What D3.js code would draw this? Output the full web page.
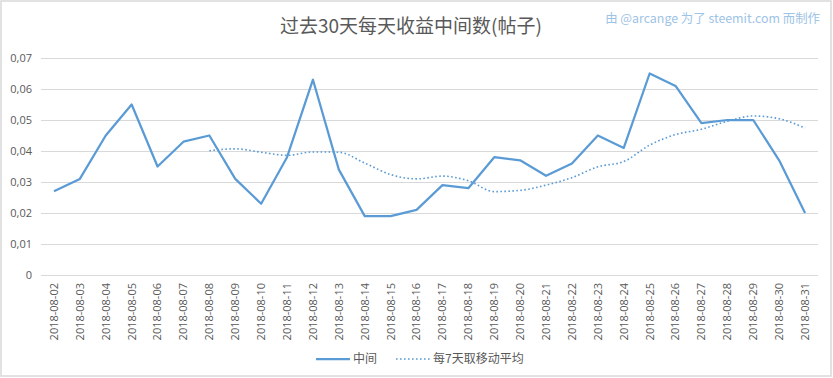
<!DOCTYPE html>
<html>
<head>
<meta charset="utf-8">
<script src="https://cdn.jsdelivr.net/npm/d3@7"></script>
<style>
    html, body { margin: 0; padding: 0; background: #fff; }
    svg { display: block; }
    .axis text { font-family: "Open Sans", "Noto Sans CJK SC", sans-serif; fill: #595959; font-size: 11px; }
    .axis path, .axis line { display: none; }
</style>
</head>
<body>
<div id="chart"></div>
<script>
"use strict";

const titleText = "过去30天每天收益中间数(帖子)";
const creditText = "由 @arcange 为了 steemit.com 而制作";
const seriesNames = ["中间", "每7天取移动平均"];

const dates = [
    "2018-08-02", "2018-08-03", "2018-08-04", "2018-08-05", "2018-08-06", "2018-08-07",
    "2018-08-08", "2018-08-09", "2018-08-10", "2018-08-11", "2018-08-12", "2018-08-13",
    "2018-08-14", "2018-08-15", "2018-08-16", "2018-08-17", "2018-08-18", "2018-08-19",
    "2018-08-20", "2018-08-21", "2018-08-22", "2018-08-23", "2018-08-24", "2018-08-25",
    "2018-08-26", "2018-08-27", "2018-08-28", "2018-08-29", "2018-08-30", "2018-08-31"
];

// median per day
const medianValues = [
    0.027, 0.031, 0.045, 0.055, 0.035, 0.043,
    0.045, 0.031, 0.023, 0.038, 0.063, 0.034,
    0.019, 0.019, 0.021, 0.029, 0.028, 0.038,
    0.037, 0.032, 0.036, 0.045, 0.041, 0.065,
    0.061, 0.049, 0.050, 0.050, 0.037, 0.020
];

// 7-day moving average, starts on 08-08
const movingAvg = [
    null, null, null, null, null, null,
    0.0401, 0.0407, 0.0396, 0.0386, 0.0397, 0.0396,
    0.0361, 0.0324, 0.0310, 0.0319, 0.0304, 0.0269,
    0.0273, 0.0290, 0.0314, 0.0349, 0.0366, 0.0419,
    0.0453, 0.0470, 0.0496, 0.0513, 0.0504, 0.0474
];

const yTicks = [0, 0.01, 0.02, 0.03, 0.04, 0.05, 0.06, 0.07];

const W = 833, H = 378;
const plot = {left: 41, right: 818, top: 58, bottom: 275};
const blue = "#5b9bd5";

const svg = d3.select("#chart").append("svg")
    .attr("width", W)
    .attr("height", H);

// outer frame
svg.append("rect")
    .attr("x", 1).attr("y", 1)
    .attr("width", W - 3).attr("height", H - 3)
    .attr("fill", "#fff")
    .attr("stroke", "#d9d9d9")
    .attr("stroke-width", 1.5);

const xScale = d3.scaleBand()
    .domain(dates)
    .range([plot.left, plot.right]);
const yScale = d3.scaleLinear()
    .domain([0, 0.07])
    .range([plot.bottom, plot.top]);

// gridlines
svg.append("g")
    .selectAll("line")
    .data(yTicks)
    .join("line")
    .attr("x1", plot.left).attr("x2", plot.right)
    .attr("y1", d => Math.round(yScale(d)) + 0.5)
    .attr("y2", d => Math.round(yScale(d)) + 0.5)
    .attr("stroke", "#d9d9d9")
    .attr("stroke-width", 1);

// y axis labels
const yAxis = d3.axisLeft(yScale)
    .tickValues(yTicks)
    .tickSize(0)
    .tickPadding(0)
    .tickFormat(d => d === 0 ? "0" : d3.format(".2f")(d).replace(".", ","));
svg.append("g")
    .attr("class", "axis")
    .attr("transform", `translate(32,0)`)
    .call(yAxis);

// x axis labels, rotated
const xAxis = d3.axisBottom(xScale).tickSize(0).tickPadding(0);
const gx = svg.append("g")
    .attr("class", "axis")
    .attr("transform", `translate(0,${plot.bottom})`)
    .call(xAxis);
gx.selectAll("text")
    .attr("transform", "rotate(-90)")
    .attr("text-anchor", "end")
    .attr("x", -8)
    .attr("y", 0)
    .attr("dy", "0.35em");

const cx = d => xScale(d) + xScale.bandwidth() / 2;

const medianLine = d3.line()
    .x((d, i) => cx(dates[i]))
    .y(d => yScale(d));
svg.append("path")
    .datum(medianValues)
    .attr("fill", "none")
    .attr("stroke", blue)
    .attr("stroke-width", 2.25)
    .attr("stroke-linejoin", "round")
    .attr("d", medianLine);

const avgLine = d3.line()
    .defined(d => d !== null)
    .x((d, i) => cx(dates[i]))
    .y(d => yScale(d))
    .curve(d3.curveMonotoneX);
svg.append("path")
    .datum(movingAvg)
    .attr("fill", "none")
    .attr("stroke", blue)
    .attr("stroke-width", 1.6)
    .attr("stroke-dasharray", "1.6,2.4")
    .attr("d", avgLine);

// title
svg.append("text")
    .attr("x", 411)
    .attr("y", 33)
    .attr("text-anchor", "middle")
    .attr("font-family", "'Noto Sans CJK SC', sans-serif")
    .attr("font-size", 19)
    .attr("fill", "#595959")
    .text(titleText);

svg.append("text")
    .attr("x", 820)
    .attr("y", 23)
    .attr("text-anchor", "end")
    .attr("font-family", "'Noto Sans CJK SC', sans-serif")
    .attr("font-size", 12.4)
    .attr("fill", "#9dc3e6")
    .text(creditText);

// legend
const legend = svg.append("g").attr("transform", "translate(0,359)");
legend.append("line")
    .attr("x1", 316).attr("x2", 350).attr("y1", 0).attr("y2", 0)
    .attr("stroke", blue).attr("stroke-width", 2.25);
legend.append("text")
    .attr("x", 353).attr("y", 0).attr("dy", "0.35em")
    .attr("font-family", "'Noto Sans CJK SC', sans-serif")
    .attr("font-size", 12).attr("fill", "#595959")
    .text(seriesNames[0]);
legend.append("line")
    .attr("x1", 396).attr("x2", 430).attr("y1", 0).attr("y2", 0)
    .attr("stroke", blue).attr("stroke-width", 1.6)
    .attr("stroke-dasharray", "1.6,2.4");
legend.append("text")
    .attr("x", 433).attr("y", 0).attr("dy", "0.35em")
    .attr("font-family", "'Noto Sans CJK SC', sans-serif")
    .attr("font-size", 12).attr("fill", "#595959")
    .text(seriesNames[1]);
</script>
</body>
</html>
